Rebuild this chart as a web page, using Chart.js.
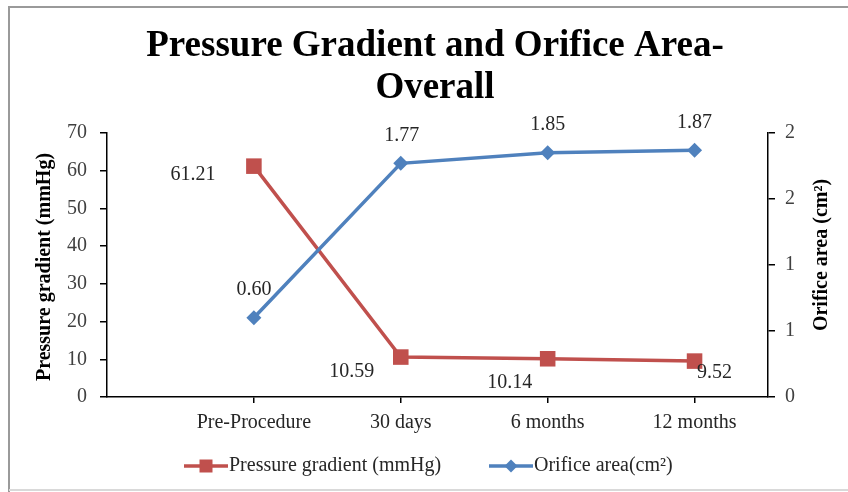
<!DOCTYPE html>
<html>
<head>
<meta charset="utf-8">
<title>Pressure Gradient and Orifice Area - Overall</title>
<script src="https://cdn.jsdelivr.net/npm/chart.js@4.4.1/dist/chart.umd.min.js"></script>
<style>
  html, body { margin: 0; padding: 0; background: #fff; }
  #wrap { width: 848px; height: 492px; position: relative; }
</style>
</head>
<body>
<div id="wrap"><canvas id="chart"></canvas></div>
<script>
// chart data
const categories = ["Pre-Procedure", "30 days", "6 months", "12 months"];
const pressureGradient = [61.21, 10.59, 10.14, 9.52];
const orificeArea = [0.60, 1.77, 1.85, 1.87];
const areaTickLabels = ["0", "1", "1", "2", "2"];
const titleLines = ["Pressure Gradient and Orifice Area-", "Overall"];

const RED = "#C0504D";
const BLUE = "#4F81BD";
const SERIF = "'Liberation Serif', 'Times New Roman', serif";

// where each value label sits relative to its point (px)
const redLabelOffsets = [[-61, 9], [-49, 15], [-38, 24], [20, 12]];
const blueLabelOffsets = [[0, -28], [1, -28], [0, -28], [0, -27]];

function drawMarker(ctx, style, x, y, r, color) {
  ctx.save();
  ctx.fillStyle = color;
  ctx.beginPath();
  if (style === "rect") {
    ctx.rect(x - r, y - r, 2 * r, 2 * r);
  } else {
    ctx.moveTo(x, y - r);
    ctx.lineTo(x + r, y);
    ctx.lineTo(x, y + r);
    ctx.lineTo(x - r, y);
    ctx.closePath();
  }
  ctx.fill();
  ctx.restore();
}

const decorPlugin = {
  id: "decor",
  beforeDraw(chart) {
    const ctx = chart.ctx;
    ctx.save();
    ctx.fillStyle = "#fff";
    ctx.fillRect(0, 0, chart.width, chart.height);
    // outer frame
    ctx.strokeStyle = "#9a9a9a";
    ctx.lineWidth = 2;
    ctx.beginPath();
    ctx.moveTo(9, chart.height);
    ctx.lineTo(9, 7);
    ctx.lineTo(chart.width, 7);
    ctx.stroke();
    ctx.strokeStyle = "#d9d9d9";
    ctx.beginPath();
    ctx.moveTo(9, 490);
    ctx.lineTo(chart.width, 490);
    ctx.stroke();
    ctx.restore();
  },
  afterDatasetsDraw(chart) {
    const ctx = chart.ctx;
    ctx.save();

    // value labels
    ctx.font = "20px " + SERIF;
    ctx.fillStyle = "#262626";
    ctx.textAlign = "center";
    ctx.textBaseline = "middle";
    const sets = [
      { meta: chart.getDatasetMeta(0), vals: pressureGradient, offs: redLabelOffsets },
      { meta: chart.getDatasetMeta(1), vals: orificeArea, offs: blueLabelOffsets },
    ];
    sets.forEach((s) => {
      s.meta.data.forEach((pt, i) => {
        ctx.fillText(s.vals[i].toFixed(2), pt.x + s.offs[i][0], pt.y + s.offs[i][1]);
      });
    });

    // main title
    ctx.fillStyle = "#000";
    ctx.font = "bold 37px " + SERIF;
    ctx.fillText(titleLines[0], 435, 46);
    ctx.fillText(titleLines[1], 435, 88);

    // axis titles
    ctx.font = "bold 20px " + SERIF;
    ctx.save();
    ctx.translate(45, 267);
    ctx.rotate(-Math.PI / 2);
    ctx.fillText("Pressure gradient (mmHg)", 0, 0);
    ctx.restore();
    ctx.save();
    ctx.translate(822, 255);
    ctx.rotate(-Math.PI / 2);
    ctx.fillText("Orifice area (cm\u00B2)", 0, 0);
    ctx.restore();

    // legend
    const ly = 466;
    ctx.lineWidth = 3.5;
    ctx.strokeStyle = RED;
    ctx.beginPath();
    ctx.moveTo(184, ly);
    ctx.lineTo(228, ly);
    ctx.stroke();
    drawMarker(ctx, "rect", 206, ly, 6.5, RED);
    ctx.strokeStyle = BLUE;
    ctx.beginPath();
    ctx.moveTo(489, ly);
    ctx.lineTo(533, ly);
    ctx.stroke();
    drawMarker(ctx, "diamond", 511, ly, 6.5, BLUE);
    ctx.font = "20px " + SERIF;
    ctx.fillStyle = "#262626";
    ctx.textAlign = "left";
    ctx.fillText("Pressure gradient (mmHg)", 229, ly);
    ctx.fillText("Orifice area(cm\u00B2)", 534, ly);

    ctx.restore();
  },
};

const ctx = document.getElementById("chart").getContext("2d");
const chart = new Chart(ctx, {
  type: "line",
  data: {
    datasets: [
      {
        label: "Pressure gradient (mmHg)",
        data: pressureGradient.map((v, i) => ({ x: i, y: v })),
        yAxisID: "y",
        borderColor: RED,
        backgroundColor: RED,
        borderWidth: 3.5,
        pointStyle: "rect",
        pointRadius: 11,
        pointHoverRadius: 11,
        pointBorderWidth: 0,
        tension: 0,
        order: 2,
      },
      {
        label: "Orifice area(cm\u00B2)",
        data: orificeArea.map((v, i) => ({ x: i, y: v })),
        yAxisID: "y2",
        borderColor: BLUE,
        backgroundColor: BLUE,
        borderWidth: 3.5,
        pointStyle: "rectRot",
        pointRadius: 7.5,
        pointHoverRadius: 7.5,
        pointBorderWidth: 0,
        tension: 0,
        order: 1,
      },
    ],
  },
  options: {
    responsive: true,
    maintainAspectRatio: false,
    animation: false,
    events: [],
    layout: { padding: { top: 133, left: 8, right: 0, bottom: 0 } },
    plugins: {
      legend: { display: false },
      title: { display: false },
      tooltip: { enabled: false },
    },
    scales: {
      x: {
        type: "linear",
        min: -1,
        max: 3.5,
        afterBuildTicks: (scale) => {
          scale.ticks = categories.map((c, i) => ({ value: i }));
        },
        afterFit: (scale) => {
          scale.height = 95;
        },
        ticks: {
          callback: (v) => (categories[v] !== undefined ? categories[v] : ""),
          color: "#262626",
          font: { family: SERIF, size: 20 },
          maxRotation: 0,
          autoSkip: false,
          padding: 8,
        },
        grid: { drawOnChartArea: false, drawTicks: true, tickLength: 6, color: "#000", lineWidth: 1.5 },
        border: { display: true, color: "#000", width: 1.5 },
      },
      y: {
        position: "left",
        min: 0,
        max: 70,
        afterFit: (scale) => {
          scale.width = 99;
        },
        ticks: {
          stepSize: 10,
          color: "#404040",
          font: { family: SERIF, size: 20 },
          padding: 13,
        },
        grid: { drawOnChartArea: false, drawTicks: true, tickLength: 7, color: "#000", lineWidth: 1.5 },
        border: { display: true, color: "#000", width: 1.5 },
      },
      y2: {
        position: "right",
        min: 0,
        max: 2,
        afterFit: (scale) => {
          scale.width = 80;
        },
        ticks: {
          stepSize: 0.5,
          callback: (v, i) => areaTickLabels[i],
          color: "#404040",
          font: { family: SERIF, size: 20 },
          padding: 10,
        },
        grid: { drawOnChartArea: false, drawTicks: true, tickLength: 7, color: "#000", lineWidth: 1.5 },
        border: { display: true, color: "#000", width: 1.5 },
      },
    },
  },
  plugins: [decorPlugin],
});
</script>
</body>
</html>
